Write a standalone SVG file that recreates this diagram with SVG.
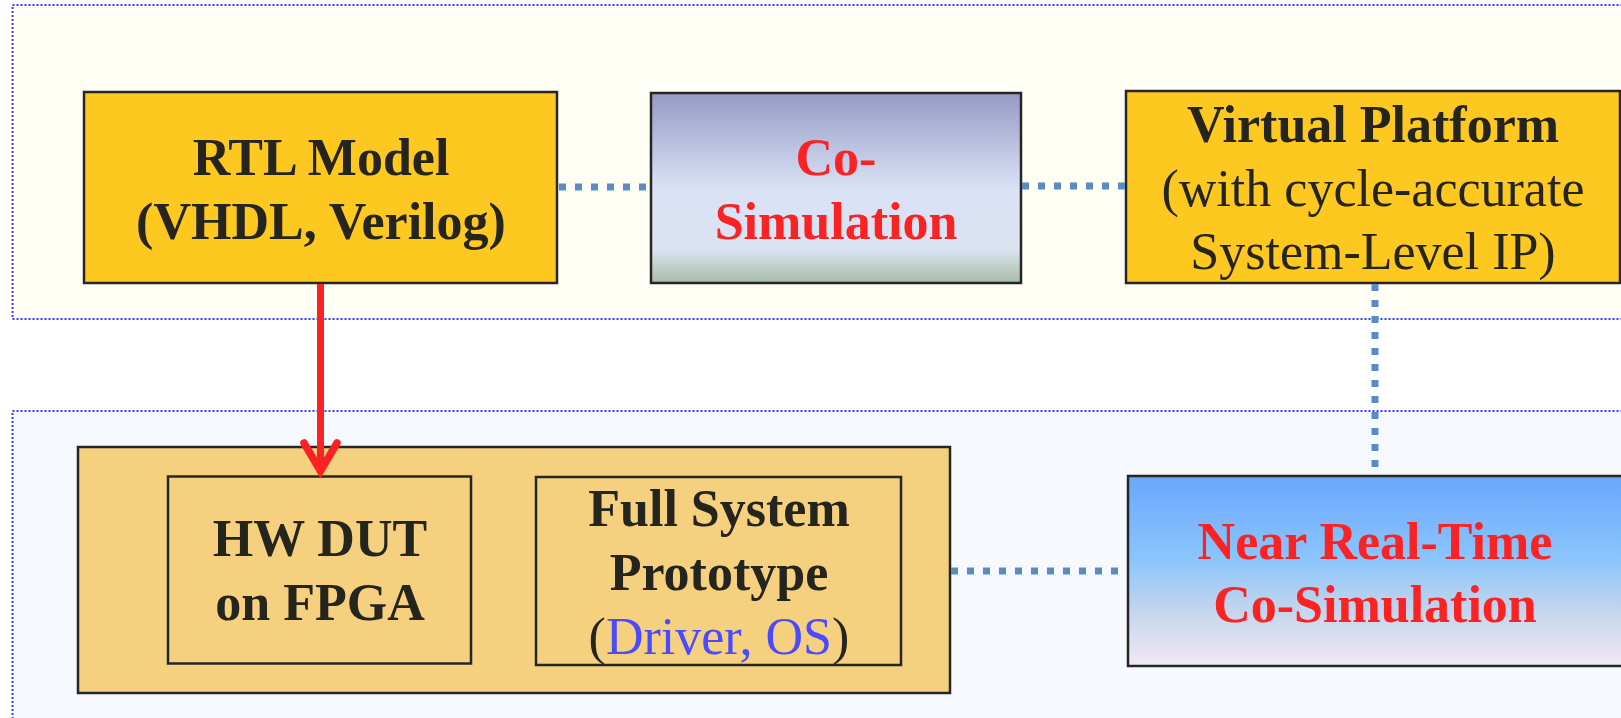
<svg xmlns="http://www.w3.org/2000/svg" width="1621" height="718" viewBox="0 0 1621 718">
  <style>
    .zone { stroke: #3b3bff; stroke-width: 2; stroke-dasharray: 2 2; }
    .box { stroke: #262626; stroke-width: 2.5; }
    .t { font-family: "Liberation Serif", "Times New Roman", serif; font-size: 52px; text-anchor: middle; }
    .b { font-weight: bold; }
    .dark { fill: #25251e; }
    .red { fill: #fa2222; }
    .link { stroke: #5a8cc4; stroke-width: 7; stroke-dasharray: 7 9; fill: none; }
  </style>
  <defs>
    <linearGradient id="gCoSim" x1="0" y1="0" x2="0" y2="1">
      <stop offset="0" stop-color="#969ac6"/>
      <stop offset="0.5" stop-color="#d9e1f5"/>
      <stop offset="0.82" stop-color="#dbe3f3"/>
      <stop offset="1" stop-color="#a7bca3"/>
    </linearGradient>
    <linearGradient id="gNrt" x1="0" y1="0" x2="0" y2="1">
      <stop offset="0" stop-color="#6aa6fc"/>
      <stop offset="0.45" stop-color="#8cc6fc"/>
      <stop offset="0.72" stop-color="#c6d6ec"/>
      <stop offset="1" stop-color="#f2e8f6"/>
    </linearGradient>
  </defs>

  <rect x="0" y="0" width="1621" height="718" fill="#ffffff"/>

  <!-- simulation zone and prototyping zone -->
  <rect class="zone" x="12.5" y="5" width="1620" height="314" fill="#fffff6"/>
  <rect class="zone" x="12.5" y="411" width="1620" height="320" fill="#f6faff"/>

  <g id="rtl-model">
    <rect class="box" x="84" y="92" width="473" height="191" fill="#fdc820"/>
    <text class="t b dark" x="321" y="175">RTL Model</text>
    <text class="t b dark" x="321" y="239">(VHDL, Verilog)</text>
  </g>

  <g id="co-simulation">
    <rect class="box" x="651" y="93" width="370" height="190" fill="url(#gCoSim)"/>
    <text class="t b red" x="836" y="175">Co-</text>
    <text class="t b red" x="836" y="239">Simulation</text>
  </g>

  <g id="virtual-platform">
    <rect class="box" x="1126" y="91" width="494" height="192" fill="#fdc820"/>
    <text class="t b dark" x="1373" y="142">Virtual Platform</text>
    <text class="t dark" x="1373" y="206">(with cycle-accurate</text>
    <text class="t dark" x="1373" y="269">System-Level IP)</text>
  </g>

  <g id="fpga-board">
    <rect class="box" x="78" y="447" width="872" height="246" fill="#f5d07e"/>
  </g>

  <g id="hw-dut">
    <rect class="box" x="168" y="476.5" width="303" height="187" fill="#f5d07e"/>
    <text class="t b dark" x="320" y="556">HW DUT</text>
    <text class="t b dark" x="320" y="620">on FPGA</text>
  </g>

  <g id="full-system-prototype">
    <rect class="box" x="536" y="477" width="365" height="188" fill="#f5d07e"/>
    <text class="t b dark" x="719" y="526">Full System</text>
    <text class="t b dark" x="719" y="590">Prototype</text>
    <text class="t dark" x="719" y="654">(<tspan fill="#4a4aff">Driver, OS</tspan>)</text>
  </g>

  <g id="near-real-time">
    <rect class="box" x="1128" y="476" width="500" height="190" fill="url(#gNrt)"/>
    <text class="t b red" x="1375" y="559">Near Real-Time</text>
    <text class="t b red" x="1375" y="622">Co-Simulation</text>
  </g>

  <!-- connectors, drawn over the nodes -->
  <g id="connectors">
    <line class="link" x1="559" y1="187" x2="650" y2="187"/>
    <line class="link" x1="1022" y1="186" x2="1126" y2="186"/>
    <line class="link" x1="1375" y1="284" x2="1375" y2="475"/>
    <line class="link" x1="951" y1="571" x2="1127" y2="571"/>
    <line x1="320.5" y1="284" x2="320.5" y2="470" stroke="#fa2222" stroke-width="7"/>
    <polyline points="304,443 320.5,471 337,443" fill="none" stroke="#fa2222" stroke-width="7.5" stroke-linecap="round" stroke-linejoin="miter"/>
  </g>
</svg>
